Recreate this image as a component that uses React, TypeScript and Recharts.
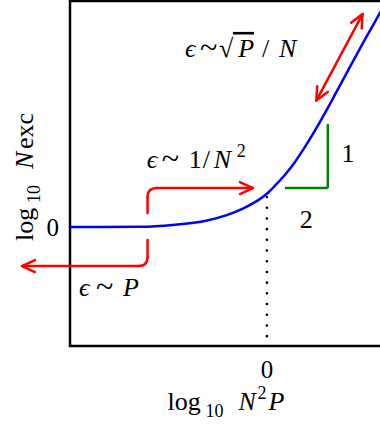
import {
  LineChart,
  Line,
  XAxis,
  YAxis,
  ReferenceLine,
  ReferenceArea,
  ReferenceDot,
  Label
} from "recharts"

const FONT = "'Liberation Serif', 'DejaVu Serif', serif"

// log10 N^2 P (x) against log10 Nexc (y)
const logN2P = [-5, -3.22, -2.39, -1.52, -1.02, -0.61, -0.25, 0, 0.2, 0.46, 0.71, 0.96, 1.22, 1.47, 1.75, 2.1, 2.53, 2.87, 3.0]
const logNexc = [0, 0.002, 0.017, 0.055, 0.1, 0.155, 0.22, 0.28, 0.345, 0.44, 0.545, 0.67, 0.81, 0.955, 1.125, 1.34, 1.6, 1.8, 1.885]

const xDomain = [-5, 3]
const yDomain = [-1, 1.9]
const xTicks = [0]
const yTicks = [0]

// red bracket: x of the vertical stroke, then the two branches
const bracketX = -3.03
const upperBranch = { from: 0.118, turn: 0.252, xTurn: -2.8, level: 0.328, tip: -0.355 }
const lowerBranch = { from: -0.109, turn: -0.252, xTurn: -3.26, level: -0.328, tip: -6.22 }

// double arrow along the steep part
const diagStart = { x: 1.256, y: 1.063 }
const diagEnd = { x: 2.43, y: 1.79 }

// slope triangle
const triLeft = 0.457
const triRight = 1.548
const triBottom = 0.328
const triTop = 0.866

// dotted marker at x = 0
const dotTop = 0.252
const dotBottom = -0.941

// annotation anchors
const sqrtNote = { x: -2.08, y: 1.43 }
const invNote = { x: -3.05, y: 0.496 }
const linNote = { x: -4.77, y: -0.58 }
const riseNote = { x: 2.06, y: 0.546, text: "1" }
const runNote = { x: 1.0, y: -0.008, text: "2" }

const curve = logN2P.map((x, i) => ({ x, y: logNexc[i] }))

const RED = "#ff0000"
const SIZE = 26
const SMALL = 18

type Run = { at: number; t: string; it?: boolean; fs?: number; dy?: number; over?: boolean }

// glyph runs placed by hand to mimic the math typesetting
function runs(list: Run[], x0: number, y0: number) {
  return list.map((r, i) => (
    <tspan
      key={i}
      x={x0 + r.at}
      y={y0 + (r.dy || 0)}
      fontStyle={r.it ? "italic" : "normal"}
      fontSize={r.fs || SIZE}
      style={r.over ? { textDecoration: "overline" } : undefined}
    >
      {r.t}
    </tspan>
  ))
}

const sqrtRuns: Run[] = [
  { at: 0, t: "ϵ", it: true },
  { at: 15, t: "~", fs: 32, dy: 1 },
  { at: 34, t: "√" },
  { at: 48, t: "\u2009P", it: true, over: true },
  { at: 77, t: "/" },
  { at: 94, t: "N", it: true }
]
const invRuns: Run[] = [
  { at: 0, t: "ϵ", it: true },
  { at: 15, t: "~", fs: 32, dy: 1 },
  { at: 42, t: "1" },
  { at: 56, t: "/" },
  { at: 67, t: "N", it: true },
  { at: 90, t: "2", fs: SMALL, dy: -11 }
]
const linRuns: Run[] = [
  { at: 0, t: "ϵ", it: true },
  { at: 17, t: "~", fs: 32, dy: 1 },
  { at: 44, t: "P", it: true }
]
const titleX: Run[] = [
  { at: 0, t: "log" },
  { at: 38, t: "10", fs: SMALL, dy: 7 },
  { at: 71, t: "N", it: true },
  { at: 90, t: "2", fs: SMALL, dy: -11 },
  { at: 101, t: "P", it: true }
]
const titleY: Run[] = [
  { at: 0, t: "log" },
  { at: 38, t: "10", fs: SMALL, dy: 7 },
  { at: 72, t: "N", it: true },
  { at: 92, t: "exc" }
]

function chevron(tx: number, ty: number, ux: number, uy: number) {
  const L = 13
  const W = 6
  return `M${tx - L * ux + W * uy},${ty - L * uy - W * ux} L${tx},${ty} L${tx - L * ux - W * uy},${ty - L * uy + W * ux}`
}

const arrow = (both: boolean) => (p: any) => {
  const { x1, y1, x2, y2 } = p
  const len = Math.hypot(x2 - x1, y2 - y1) || 1
  const ux = (x2 - x1) / len
  const uy = (y2 - y1) / len
  return (
    <g fill="none" stroke={RED} strokeWidth={2.5} strokeLinecap="round" strokeLinejoin="round">
      <line x1={x1} y1={y1} x2={x2} y2={y2} />
      <path d={chevron(x2, y2, ux, uy)} />
      {both && <path d={chevron(x1, y1, -ux, -uy)} />}
    </g>
  )
}

const corner = (p: any) => {
  const { x1, y1, x2, y2 } = p
  return (
    <path
      d={`M${x1},${y1} Q${x1},${y2} ${x2},${y2}`}
      fill="none"
      stroke={RED}
      strokeWidth={2.5}
      strokeLinecap="round"
    />
  )
}

const noteAt = (list: Run[]) => (p: any) => (
  <text fontFamily={FONT} fontSize={SIZE} fill="#000">
    {runs(list, p.cx, p.cy)}
  </text>
)

const plainAt = (t: string) => (p: any) => (
  <text x={p.cx} y={p.cy} textAnchor="middle" fontFamily={FONT} fontSize={SIZE} fill="#000">
    {t}
  </text>
)

const XTitle = (props: any) => {
  const vb = props.viewBox
  const x0 = vb.x + vb.width / 2 - 60
  return (
    <text fontFamily={FONT} fontSize={SIZE} fill="#000">
      {runs(titleX, x0, vb.y + 64)}
    </text>
  )
}

const YTitle = (props: any) => {
  const vb = props.viewBox
  const cx = vb.x + 23
  const cy = 241
  return (
    <g transform={`rotate(-90, ${cx}, ${cy})`}>
      <text fontFamily={FONT} fontSize={SIZE} fill="#000">
        {runs(titleY, cx, cy)}
      </text>
    </g>
  )
}

const tickStyle = { fontSize: 25, fill: "#000", fontFamily: FONT }

export default function App() {
  return (
    <div style={{ position: "absolute", left: 0, top: 0, width: 380, height: 426, overflow: "hidden", background: "#fff" }}>
      <LineChart width={395} height={426} data={curve} margin={{ top: 1, right: 10, bottom: 50, left: 10 }}>
        <XAxis
          type="number"
          dataKey="x"
          domain={xDomain}
          ticks={xTicks}
          allowDataOverflow
          axisLine={false}
          tickLine={false}
          tickMargin={8}
          tick={tickStyle}
          label={<Label content={XTitle} />}
        />
        <YAxis
          type="number"
          domain={yDomain}
          ticks={yTicks}
          allowDataOverflow
          width={60}
          axisLine={false}
          tickLine={false}
          tickMargin={5}
          tick={tickStyle}
          label={<Label content={YTitle} />}
        />

        <ReferenceArea
          x1={xDomain[0]}
          x2={xDomain[1]}
          y1={yDomain[0]}
          y2={yDomain[1]}
          fill="none"
          stroke="#000"
          strokeWidth={2.5}
          ifOverflow="visible"
        />

        <ReferenceLine
          segment={[{ x: 0, y: dotTop }, { x: 0, y: dotBottom }]}
          stroke="#000"
          strokeWidth={2.6}
          strokeDasharray="0 10.7"
          strokeLinecap="round"
          ifOverflow="visible"
        />

        {/* slope triangle */}
        <ReferenceLine
          segment={[{ x: triLeft, y: triBottom }, { x: triRight, y: triBottom }]}
          stroke="#008000"
          strokeWidth={2.5}
          ifOverflow="visible"
        />
        <ReferenceLine
          segment={[{ x: triRight, y: triBottom }, { x: triRight, y: triTop }]}
          stroke="#008000"
          strokeWidth={2.5}
          ifOverflow="visible"
        />

        {/* red bracket, upper branch */}
        <ReferenceLine
          segment={[{ x: bracketX, y: upperBranch.from }, { x: bracketX, y: upperBranch.turn }]}
          stroke={RED}
          strokeWidth={2.5}
          strokeLinecap="round"
          ifOverflow="visible"
        />
        <ReferenceLine
          segment={[{ x: bracketX, y: upperBranch.turn }, { x: upperBranch.xTurn, y: upperBranch.level }]}
          shape={corner}
          ifOverflow="visible"
        />
        <ReferenceLine
          segment={[{ x: upperBranch.xTurn, y: upperBranch.level }, { x: upperBranch.tip, y: upperBranch.level }]}
          shape={arrow(false)}
          ifOverflow="visible"
        />

        {/* red bracket, lower branch */}
        <ReferenceLine
          segment={[{ x: bracketX, y: lowerBranch.from }, { x: bracketX, y: lowerBranch.turn }]}
          stroke={RED}
          strokeWidth={2.5}
          strokeLinecap="round"
          ifOverflow="visible"
        />
        <ReferenceLine
          segment={[{ x: bracketX, y: lowerBranch.turn }, { x: lowerBranch.xTurn, y: lowerBranch.level }]}
          shape={corner}
          ifOverflow="visible"
        />
        <ReferenceLine
          segment={[{ x: lowerBranch.xTurn, y: lowerBranch.level }, { x: lowerBranch.tip, y: lowerBranch.level }]}
          shape={arrow(false)}
          ifOverflow="visible"
        />

        <ReferenceLine
          segment={[diagStart, diagEnd]}
          shape={arrow(true)}
          ifOverflow="visible"
        />

        <Line
          type="monotone"
          dataKey="y"
          stroke="#0000ff"
          strokeWidth={2.5}
          dot={false}
          activeDot={false}
          isAnimationActive={false}
        />

        <ReferenceDot x={sqrtNote.x} y={sqrtNote.y} r={0} ifOverflow="visible" shape={noteAt(sqrtRuns)} />
        <ReferenceDot x={invNote.x} y={invNote.y} r={0} ifOverflow="visible" shape={noteAt(invRuns)} />
        <ReferenceDot x={linNote.x} y={linNote.y} r={0} ifOverflow="visible" shape={noteAt(linRuns)} />
        <ReferenceDot x={riseNote.x} y={riseNote.y} r={0} ifOverflow="visible" shape={plainAt(riseNote.text)} />
        <ReferenceDot x={runNote.x} y={runNote.y} r={0} ifOverflow="visible" shape={plainAt(runNote.text)} />
      </LineChart>
    </div>
  )
}
